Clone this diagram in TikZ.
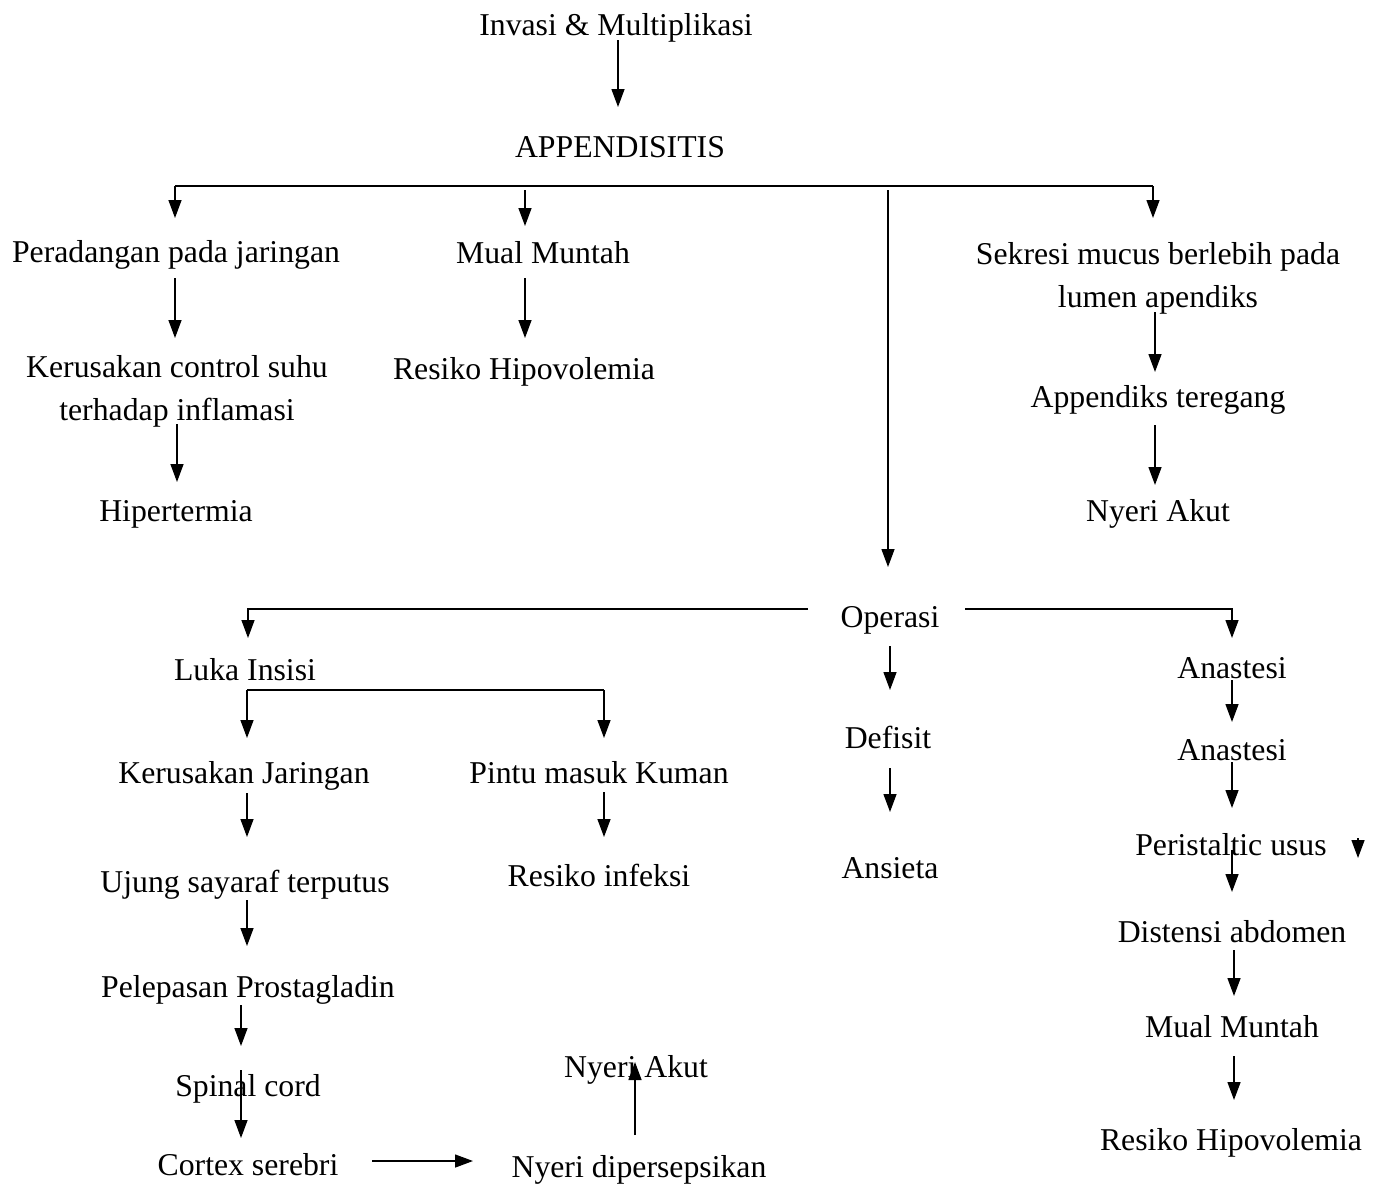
\documentclass[tikz,border=0pt]{standalone}
\usepackage{fontspec}
\setmainfont{Liberation Serif}
\usetikzlibrary{arrows.meta}
\begin{document}
\begin{tikzpicture}[x=1pt,y=-1pt,
  lbl/.style={anchor=base, inner sep=0pt, font=\fontsize{31.75}{43}\selectfont, align=center},
  arr/.style={line width=1.4pt, -{Triangle[width=13pt,length=18pt]}},
  ln/.style={line width=1.4pt}]
\useasboundingbox[fill=white] (0,0) rectangle (1378,1187);

% nodes
\node[lbl] (inv)  at (616,35)   {Invasi \& Multiplikasi};
\node[lbl] (app)  at (620,157)  {APPENDISITIS};
\node[lbl] (per)  at (176,262)  {Peradangan pada jaringan};
\node[lbl] (mm1)  at (543,263)  {Mual Muntah};
\node[lbl] (sek)  at (1158,307) {Sekresi mucus berlebih pada\\lumen apendiks};
\node[lbl] (ker)  at (177,420)  {Kerusakan control suhu\\terhadap inflamasi};
\node[lbl] (rh1)  at (524,379)  {Resiko Hipovolemia};
\node[lbl] (appt) at (1158,407) {Appendiks teregang};
\node[lbl] (hip)  at (176,521)  {Hipertermia};
\node[lbl] (na1)  at (1158,521) {Nyeri Akut};
\node[lbl] (op)   at (890,627)  {Operasi};
\node[lbl] (luka) at (245,680)  {Luka Insisi};
\node[lbl] (def)  at (888,748)  {Defisit};
\node[lbl] (ans)  at (890,878)  {Ansieta};
\node[lbl] (an1)  at (1232,678) {Anastesi};
\node[lbl] (an2)  at (1232,760) {Anastesi};
\node[lbl] (pu)   at (1231,855) {Peristaltic usus};
\node[lbl] (dis)  at (1232,942) {Distensi abdomen};
\node[lbl] (mm2)  at (1232,1037){Mual Muntah};
\node[lbl] (rh2)  at (1231,1150){Resiko Hipovolemia};
\node[lbl] (kj)   at (244,783)  {Kerusakan Jaringan};
\node[lbl] (pmk)  at (599,783)  {Pintu masuk Kuman};
\node[lbl] (ujs)  at (245,892)  {Ujung sayaraf terputus};
\node[lbl] (ri)   at (599,886)  {Resiko infeksi};
\node[lbl] (pp)   at (248,997)  {Pelepasan Prostagladin};
\node[lbl] (sc)   at (248,1096) {Spinal cord};
\node[lbl] (cs)   at (248,1175) {Cortex serebri};
\node[lbl] (nd)   at (639,1177) {Nyeri dipersepsikan};
\node[lbl] (na2)  at (636,1077) {Nyeri Akut};

% connectors
\draw[arr] (618,40) -- (618,107);
\draw[ln] (175,186) -- (1153,186);
\draw[arr] (175,186) -- (175,218);
\draw[arr] (1153,186) -- (1153,218);
\draw[arr] (525,190) -- (525,226);
\draw[arr] (888,190) -- (888,567);
\draw[arr] (175,278) -- (175,338);
\draw[arr] (525,278) -- (525,338);
\draw[arr] (1155,312) -- (1155,372);
\draw[arr] (177,424) -- (177,482);
\draw[arr] (1155,425) -- (1155,485);
\draw[arr] (808,609) -- (248,609) -- (248,638);
\draw[arr] (965,609) -- (1232,609) -- (1232,638);
\draw[ln] (247,690) -- (604,690);
\draw[arr] (247,690) -- (247,738);
\draw[arr] (604,690) -- (604,738);
\draw[arr] (890,646) -- (890,690);
\draw[arr] (890,768) -- (890,812);
\draw[arr] (1232,680) -- (1232,722);
\draw[arr] (1232,762) -- (1232,808);
\draw[arr] (1358,838) -- (1358,858);
\draw[arr] (1232,850) -- (1232,892);
\draw[arr] (1234,950) -- (1234,996);
\draw[arr] (1234,1056) -- (1234,1100);
\draw[arr] (247,793) -- (247,837);
\draw[arr] (604,792) -- (604,837);
\draw[arr] (247,900) -- (247,946);
\draw[arr] (241,1005) -- (241,1046);
\draw[arr] (241,1070) -- (241,1138);
\draw[arr] (372,1161) -- (473,1161);
\draw[arr] (635,1135) -- (635,1062);
\end{tikzpicture}
\end{document}
